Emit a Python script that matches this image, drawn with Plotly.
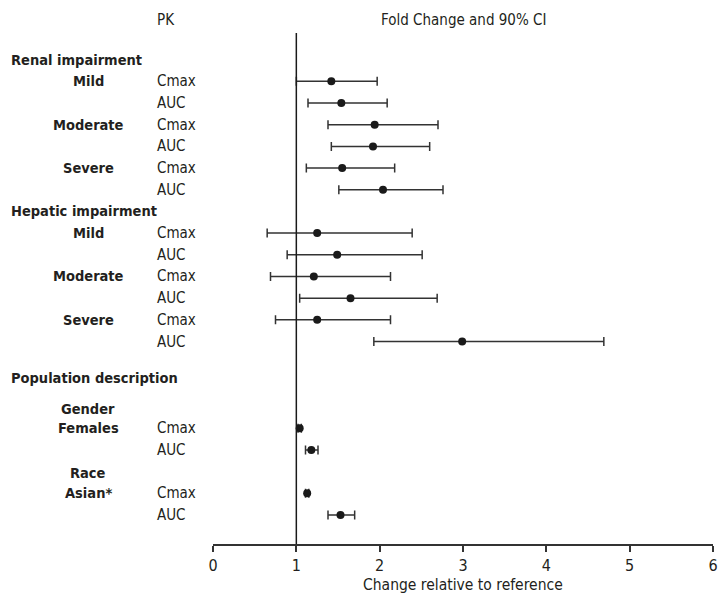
import plotly.graph_objects as go

# ---- data ----
pk_params = ["Cmax", "AUC"] * 8
row_pos = [1, 2, 3, 4, 5, 6, 8, 9, 10, 11, 12, 13, 17, 18, 20, 21]
est = [1.42, 1.54, 1.94, 1.92, 1.55, 2.04,
       1.25, 1.49, 1.21, 1.65, 1.25, 2.99,
       1.04, 1.18, 1.13, 1.53]
lo = [1.00, 1.14, 1.38, 1.42, 1.12, 1.51,
      0.65, 0.89, 0.69, 1.04, 0.75, 1.93,
      1.02, 1.11, 1.11, 1.38]
hi = [1.97, 2.09, 2.70, 2.60, 2.18, 2.76,
      2.39, 2.51, 2.13, 2.69, 2.13, 4.69,
      1.06, 1.26, 1.15, 1.70]

headers = ["Renal impairment", "Hepatic impairment", "Population description"]
header_pos = [0, 7, 14.7]
subgroups = ["Mild", "Moderate", "Severe", "Mild", "Moderate", "Severe",
             "Gender", "Females", "Race", "Asian*"]
subgroup_pos = [1, 3, 5, 8, 10, 12, 16.1, 17, 19.05, 20]

x_ticks = [0, 1, 2, 3, 4, 5, 6]

FONT = "'Liberation Sans Narrow', 'DejaVu Sans Condensed', 'Roboto Condensed', 'Arial Narrow', sans-serif"
TXT = "#231f20"
LINE = "#333333"

W, H = 725, 596
L, R, T, B = 213, 7.3, 33, 52
plot_w = W - L - R

def px_to_paper_x(px):
    return (px - L) / plot_w

fig = go.Figure()
fig.add_trace(go.Scatter(
    x=est, y=row_pos, mode="markers",
    marker=dict(size=8, color="#1a1a1a"),
    error_x=dict(type="data", symmetric=False,
                 array=[h - e for h, e in zip(hi, est)],
                 arrayminus=[e - l for e, l in zip(est, lo)],
                 width=4.5, thickness=1.5, color=LINE),
    showlegend=False, hoverinfo="skip", cliponaxis=False,
))

# reference line at 1
fig.add_shape(type="line", xref="x", yref="paper", x0=1, x1=1, y0=0, y1=1,
              line=dict(color="#1a1a1a", width=1.5))

annotations = []
for t, p in zip(headers, header_pos):
    annotations.append(dict(text="<b>%s</b>" % t, xref="paper", yref="y",
                            x=px_to_paper_x(7), y=p, xanchor="left", yanchor="middle",
                            showarrow=False, font=dict(family=FONT, size=14.5, color=TXT)))
for t, p in zip(subgroups, subgroup_pos):
    annotations.append(dict(text="<b>%s</b>" % t, xref="paper", yref="y",
                            x=px_to_paper_x(87), y=p, xanchor="center", yanchor="middle",
                            showarrow=False, font=dict(family=FONT, size=14.5, color=TXT)))
for t, p in zip(pk_params, row_pos):
    annotations.append(dict(text=t, xref="paper", yref="y",
                            x=px_to_paper_x(154), y=p, xanchor="left", yanchor="middle",
                            showarrow=False, font=dict(family=FONT, size=15, color=TXT)))
annotations.append(dict(text="PK", xref="paper", yref="paper",
                        x=px_to_paper_x(154), y=1 + (T - 20) / (H - T - B),
                        xanchor="left", yanchor="middle", showarrow=False,
                        font=dict(family=FONT, size=15, color=TXT)))
annotations.append(dict(text="Fold Change and 90% CI", xref="x", yref="paper",
                        x=3, y=1 + (T - 20) / (H - T - B),
                        xanchor="center", yanchor="middle", showarrow=False,
                        font=dict(family=FONT, size=15, color=TXT)))
annotations.append(dict(text="Change relative to reference", xref="x", yref="paper",
                        x=3, y=-(585 - (H - B)) / (H - T - B),
                        xanchor="center", yanchor="middle", showarrow=False,
                        font=dict(family=FONT, size=15.5, color=TXT)))

fig.update_layout(
    width=W, height=H,
    margin=dict(l=L, r=R, t=T, b=B, pad=0),
    paper_bgcolor="white", plot_bgcolor="white",
    annotations=annotations,
    xaxis=dict(range=[0, 6], tickvals=x_ticks, ticks="outside", ticklen=6,
               tickwidth=1.5, tickcolor=LINE, showline=True, linecolor=LINE,
               linewidth=1.5, showgrid=False, zeroline=False,
               tickfont=dict(family=FONT, size=16, color=TXT)),
    yaxis=dict(range=[22.34, -1.23], showticklabels=False, showgrid=False,
               zeroline=False, showline=False, ticks=""),
)

fig.write_html("out.html")
